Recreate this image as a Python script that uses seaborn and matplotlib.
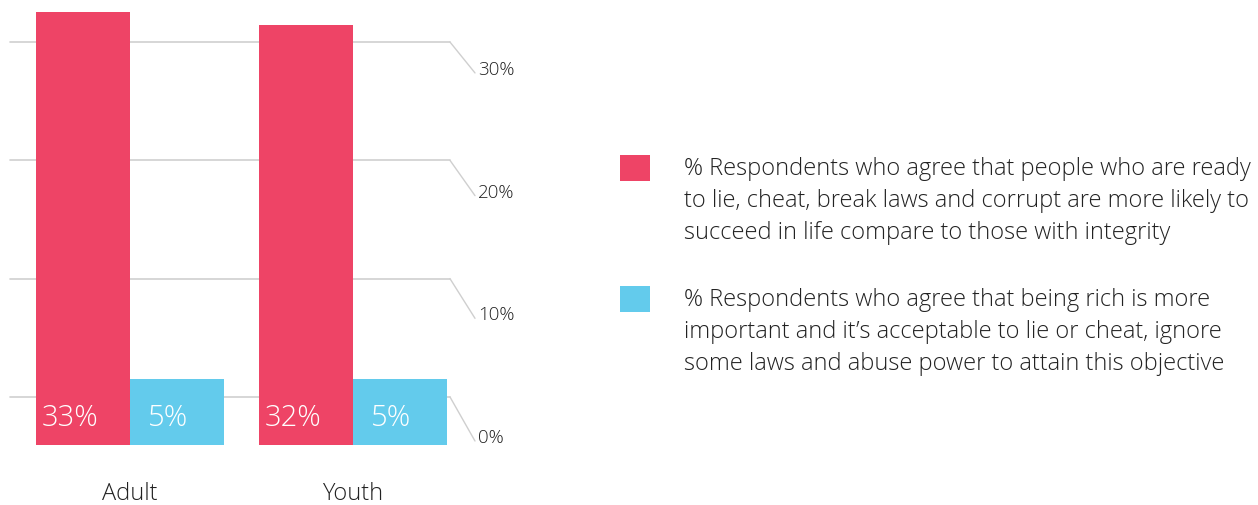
import matplotlib
matplotlib.use("Agg")
import matplotlib.pyplot as plt
import matplotlib.transforms as mtransforms
from matplotlib.patches import ConnectionPatch, Rectangle
import seaborn as sns
import pandas as pd

groups = ["Adult", "Youth"]
series = [
    "% Respondents who agree that people who are ready\nto lie, cheat, break laws and corrupt are more likely to\nsucceed in life compare to those with integrity",
    "% Respondents who agree that being rich is more\nimportant and it\u2019s acceptable to lie or cheat, ignore\nsome laws and abuse power to attain this objective",
]
succeed_dishonest = [33, 32]
rich_over_honesty = [5, 5]
tick_values = [0, 10, 20, 30]
tick_labels = ["0%", "10%", "20%", "30%"]

RED = "#EE4466"
BLUE = "#63CBEC"
GRID = "#cfcfcf"
TEXT = "#222222"

sns.set_theme(style="white")
plt.rcParams["font.family"] = ["Open Sans", "DejaVu Sans"]
plt.rcParams["font.weight"] = "light"

df = pd.DataFrame({
    "group": groups * 2,
    "series": [series[0]] * len(groups) + [series[1]] * len(groups),
    "value": succeed_dishonest + rich_over_honesty,
})

W, H = 1258, 506
fig = plt.figure(figsize=(W / 100, H / 100), dpi=100)
rect = [0, 60 / H, 560 / W, 446 / H]

# layered axes: guide lines behind, bars in the middle, tick labels on top
ax_grid = fig.add_axes(rect)
ax = fig.add_axes(rect)
ax_lab = fig.add_axes(rect)
for a in (ax_grid, ax, ax_lab):
    a.set_xlim(-0.583, 1.928)
ax_grid.set_ylim(-4.06, 33.64)
ax_lab.set_ylim(-0.65, 35.7)
ax_grid.axis("off")
ax_lab.axis("off")
ax.patch.set_alpha(0)
ax_lab.patch.set_alpha(0)

sns.barplot(data=df, x="group", y="value", hue="series", palette=[RED, BLUE],
            width=0.843, gap=0, saturation=1, errorbar=None, linewidth=0,
            legend=False, ax=ax)
ax.set_xlim(-0.583, 1.928)
ax.set_ylim(0, 34)
sns.despine(ax=ax, left=True, bottom=True)
ax.set_ylabel("")
ax.set_xlabel("")
ax.set_yticks([])
ax.tick_params(axis="x", length=0, pad=26, labelsize=17, labelcolor=TEXT)

# value labels near the base of each bar
indent = {0: 4, 1: 13}
for i, cont in enumerate(ax.containers):
    for bar, val in zip(cont, [succeed_dishonest, rich_over_honesty][i]):
        ax.annotate(f"{val}%", xy=(bar.get_x(), 0), xytext=(indent[i], 20),
                    textcoords="offset points", ha="left", va="center",
                    color="white", fontsize=21, fontweight="light")

# guide lines with slanted leaders down to the tick labels
x0, x1, x2 = 10 / 560, 450 / 560, 475 / 560
tg = mtransforms.blended_transform_factory(ax_grid.transAxes, ax_grid.transData)
tl = mtransforms.blended_transform_factory(ax_lab.transAxes, ax_lab.transData)
tl_end = mtransforms.offset_copy(tl, fig=fig, y=-4, units="dots")
for t, lab in zip(tick_values, tick_labels):
    ax_grid.plot([x0, x1], [t, t], transform=tg, color=GRID, lw=1.2)
    con = ConnectionPatch(xyA=(x1, t), coordsA=tg, xyB=(x2, t), coordsB=tl_end,
                          color=GRID, lw=1.0)
    fig.add_artist(con)
    ax_lab.annotate(lab, xy=(x2, t), xycoords=tl, xytext=(2, 0),
                    textcoords="offset points", ha="left", va="center",
                    fontsize=13.5, color=TEXT, fontweight="light")

# legend
for k, (label, color) in enumerate(zip(series, [RED, BLUE])):
    top = 156 + 131 * k
    fig.patches.append(Rectangle((620 / W, 1 - (top + 26) / H), 30 / W, 26 / H,
                                 transform=fig.transFigure, facecolor=color,
                                 edgecolor="none"))
    fig.text(684 / W, 1 - (top + 1) / H, label, ha="left", va="top",
             fontsize=17, color=TEXT, linespacing=1.45, fontweight="light")

fig.savefig("out.png", dpi=100)
